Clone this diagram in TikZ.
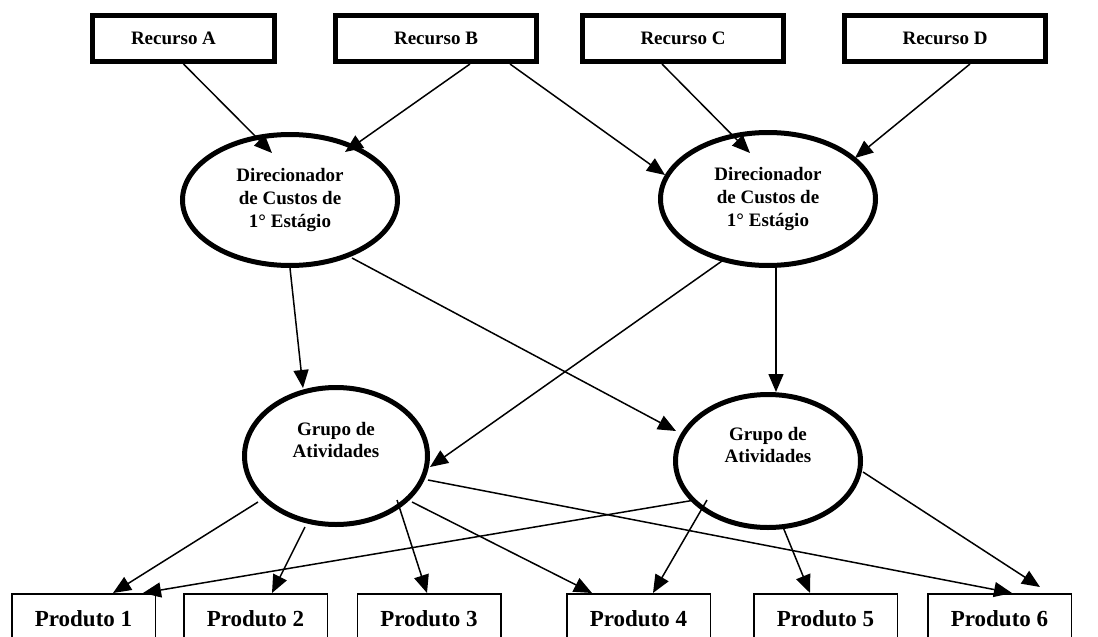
\documentclass[tikz,border=0pt]{standalone}
\usepackage{fontspec}
\setmainfont{Liberation Serif}
\usetikzlibrary{shapes.geometric,arrows.meta,calc}
\begin{document}
\begin{tikzpicture}[x=1pt,y=-1pt,
  res/.style={draw, line width=5pt, minimum width=182pt, minimum height=46pt, inner sep=0pt,
    font=\bfseries\fontsize{19}{22}\selectfont},
  ell/.style={draw, ellipse, line width=5pt, inner sep=0pt, align=center,
    font=\bfseries\fontsize{19}{23}\selectfont},
  prod/.style={draw, line width=1.5pt, minimum width=143.5pt, minimum height=50.5pt, inner sep=0pt,
    font=\bfseries\fontsize{23}{26}\selectfont},
  arr/.style={line width=1.5pt, -{Triangle[length=18pt,width=15pt]}}]
\useasboundingbox (0,0) rectangle (1098,637);
\clip (0,0) rectangle (1098,637);
\fill[white] (0,0) rectangle (1098,637);
% resources
\node[res] (recA) at (183.5,38.5) {\hspace*{-20pt}Recurso A};
\node[res, minimum width=201pt] (recB) at (436,38.5) {Recurso B};
\node[res, minimum width=201pt] (recC) at (683,38.5) {Recurso C};
\node[res, minimum width=201pt] (recD) at (945,38.5) {Recurso D};
% drivers
\node[ell, minimum width=215pt, minimum height=131pt] (dirL) at (290,200) {Direcionador\\de Custos de\\1° Estágio};
\node[ell, minimum width=215pt, minimum height=133pt] (dirR) at (768,199) {Direcionador\\de Custos de\\1° Estágio};
% activity groups
\node[ell, minimum width=183pt, minimum height=137pt,
  label={[align=center, font=\bfseries\fontsize{19}{22}\selectfont, yshift=16pt]center:Grupo de\\Atividades}] (grpL) at (336,456) {};
\node[ell, minimum width=185pt, minimum height=133pt,
  label={[align=center, font=\bfseries\fontsize{19}{22}\selectfont, yshift=16pt]center:Grupo de\\Atividades}] (grpR) at (768,461) {};
% products
\node[prod] (p1) at (83.5,619) {Produto 1};
\node[prod] (p2) at (255.5,619) {Produto 2};
\node[prod] (p3) at (429,619) {Produto 3};
\node[prod] (p4) at (638.5,619) {Produto 4};
\node[prod] (p5) at (825.5,619) {Produto 5};
\node[prod] (p6) at (999.5,619) {Produto 6};
% resources -> drivers
\draw[arr] (recA.south) -- ($(dirL)+(-18,-47)$);
\draw[arr] ([xshift=34pt]recB.south) -- ($(dirL)+(55,-48)$);
\draw[arr] ([xshift=74pt]recB.south) -- ($(dirR)+(-103,-24)$);
\draw[arr] ([xshift=-21pt]recC.south) -- ($(dirR)+(-18,-46)$);
\draw[arr] ([xshift=25pt]recD.south) -- ($(dirR)+(87,-41)$);
% drivers -> groups
\draw[arr] ($(dirL)+(0,68)$) -- ($(grpL)+(-33,-68)$);
\draw[arr] ($(dirL)+(62,58)$) -- ($(grpR)+(-92,-30)$);
\draw[arr] ($(dirR)+(-46,62)$) -- ($(grpL)+(94,11)$);
\draw[arr] ($(dirR)+(8,69)$) -- ($(grpR)+(8,-69)$);
% groups -> products
\draw[arr] ($(grpL)+(-78,46)$) -- ([xshift=29.5pt]p1.north);
\draw[arr] ($(grpL)+(-31,71)$) -- ([xshift=16.5pt]p2.north);
\draw[arr] ($(grpL)+(61,44)$) -- ([xshift=-2pt]p3.north);
\draw[arr] ($(grpL)+(76,46)$) -- ([xshift=-46.5pt]p4.north);
\draw[arr] ($(grpL)+(92,24)$) -- ([xshift=12.5pt]p6.north);
\draw[arr] ($(grpR)+(-73,39)$) -- ([xshift=59.5pt]p1.north);
\draw[arr] ($(grpR)+(-61,39)$) -- ([xshift=14.5pt]p4.north);
\draw[arr] ($(grpR)+(15,66)$) -- ([xshift=-15.5pt]p5.north);
\draw[arr] ($(grpR)+(95,11)$) -- ($(p6.north)+(40.5,-6)$);
\end{tikzpicture}
\end{document}
